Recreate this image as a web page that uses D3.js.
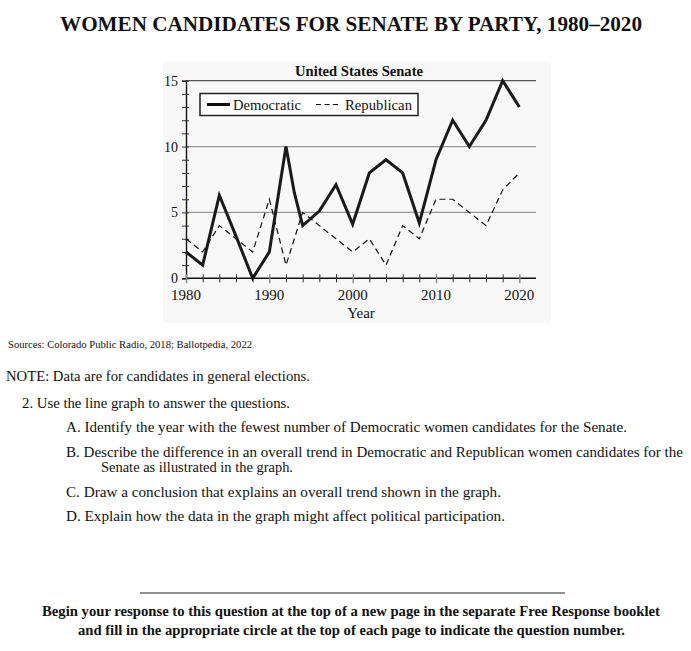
<!DOCTYPE html>
<html><head><meta charset="utf-8">
<script src="https://cdn.jsdelivr.net/npm/d3@7"></script>
<style>body{margin:0;background:#fff}svg{display:block}text{font-family:"Liberation Serif","Times New Roman",serif;fill:#111}</style>
</head><body><svg id="c" width="691" height="651"></svg>
<script>
const years = [1980,1982,1984,1986,1988,1990,1992,1993,1994,1996,1998,2000,2002,2004,2006,2008,2010,2012,2014,2016,2018,2020];
const democratic = [2,1,6.3,3.2,0,2,10,6.5,4,5.1,7.1,4.1,8,9,8,4.2,9,12,10,12,15,13];
const repYears = [1980,1982,1984,1986,1988,1990,1992,1994,1996,1998,2000,2002,2004,2006,2008,2010,2012,2014,2016,2018,2020];
const republican = [3,2,4,3,2,6,1,5,4,3,2,3,1,4,3,6,6,5,4,6.7,8];
const xLabels = [1980,1990,2000,2010,2020];
const yLabels = [0,5,10,15];
const seriesNames = ["Democratic","Republican"];

const svg = d3.select("#c");
const x = d3.scaleLinear().domain([1980,2022]).range([186,536]);
const y = d3.scaleLinear().domain([0,15]).range([278.3,80.7]);

// panel background
svg.append("rect").attr("x",163).attr("y",62).attr("width",388).attr("height",261).attr("fill","#f8f8f8");

// title
svg.append("text").attr("x",351).attr("y",31).attr("text-anchor","middle")
  .attr("font-size",21).attr("font-weight","bold").attr("textLength",582).attr("lengthAdjust","spacingAndGlyphs")
  .text("WOMEN CANDIDATES FOR SENATE BY PARTY, 1980–2020");
svg.append("text").attr("x",359).attr("y",76).attr("text-anchor","middle")
  .attr("font-size",14.5).attr("font-weight","bold").attr("textLength",128).attr("lengthAdjust","spacingAndGlyphs")
  .text("United States Senate");

// gridlines
svg.append("g").selectAll("line").data([5,10,15]).join("line")
  .attr("x1",186).attr("x2",536).attr("y1",d=>y(d)).attr("y2",d=>y(d))
  .attr("stroke",d=>d===15?"#555":"#999").attr("stroke-width",1.3);

// y axis
const yAxis = svg.append("g").attr("transform","translate(186,0)")
  .call(d3.axisLeft(y).tickValues(d3.range(0,16)).tickSize(4).tickFormat(""));
yAxis.select(".domain").attr("stroke","#111").attr("stroke-width",1.4);
yAxis.selectAll(".tick line").attr("x2",3).attr("x1",-4).attr("stroke","#333");
svg.append("g").selectAll("text").data(yLabels).join("text")
  .attr("x",178).attr("y",d=>y(d)+5).attr("text-anchor","end").attr("font-size",14).text(d=>d);

// x axis
const xAxis = svg.append("g").attr("transform",`translate(0,${y(0)})`)
  .call(d3.axisBottom(x).tickValues(d3.range(1980,2022,2)).tickSize(4).tickFormat(""));
xAxis.select(".domain").attr("d",`M186,0H536`).attr("stroke","#111").attr("stroke-width",1.4);
xAxis.selectAll(".tick line").attr("y1",-4).attr("y2",d=>d%10===0?5:4).attr("stroke",d=>d%10===0?"#888":"#333").attr("stroke-width",d=>d%10===0?1.4:1);
svg.append("g").selectAll("text").data(xLabels).join("text")
  .attr("x",d=>x(d)).attr("y",300).attr("text-anchor","middle").attr("font-size",15).text(d=>d);
svg.append("text").attr("x",361).attr("y",318).attr("text-anchor","middle").attr("font-size",15).text("Year");

// lines
const line = d3.line().x(d=>x(d[0])).y(d=>y(d[1]));
svg.append("path").datum(repYears.map((yr,i)=>[yr,republican[i]])).attr("d",line)
  .attr("fill","none").attr("stroke","#111").attr("stroke-width",1.2).attr("stroke-dasharray","6,4");
svg.append("path").datum(years.map((yr,i)=>[yr,democratic[i]])).attr("d",line)
  .attr("fill","none").attr("stroke","#1a1a1a").attr("stroke-width",3).attr("stroke-linejoin","miter");

// legend
const lg = svg.append("g");
lg.append("rect").attr("x",200).attr("y",93.5).attr("width",218).attr("height",22).attr("fill","#fff").attr("stroke","#222").attr("stroke-width",1.5);
lg.append("line").attr("x1",207).attr("x2",230).attr("y1",104.5).attr("y2",104.5).attr("stroke","#111").attr("stroke-width",3);
lg.append("text").attr("x",233).attr("y",109.5).attr("font-size",14.5).attr("textLength",68).attr("lengthAdjust","spacingAndGlyphs").text(seriesNames[0]);
lg.append("line").attr("x1",316).attr("x2",340).attr("y1",104.5).attr("y2",104.5).attr("stroke","#111").attr("stroke-width",1.2).attr("stroke-dasharray","5,3.5");
lg.append("text").attr("x",345).attr("y",109.5).attr("font-size",14.5).attr("textLength",67).attr("lengthAdjust","spacingAndGlyphs").text(seriesNames[1]);

// text block
function t(xp,yp,len,size,txt,opts={}){
  const e = svg.append("text").attr("x",xp).attr("y",yp).attr("font-size",size)
    .attr("textLength",len).attr("lengthAdjust","spacingAndGlyphs").text(txt);
  if(opts.bold) e.attr("font-weight","bold");
  if(opts.anchor) e.attr("text-anchor",opts.anchor);
  return e;
}
t(8,348,244,10,"Sources: Colorado Public Radio, 2018; Ballotpedia, 2022");
t(6,381,304,14.5,"NOTE: Data are for candidates in general elections.");
t(22,408,268,14.5,"2. Use the line graph to answer the questions.");
t(66,432,561,14.5,"A. Identify the year with the fewest number of Democratic women candidates for the Senate.");
t(66,457,617,14.5,"B. Describe the difference in an overall trend in Democratic and Republican women candidates for the");
t(101,472,192,14.5,"Senate as illustrated in the graph.");
t(66,497,435,14.5,"C. Draw a conclusion that explains an overall trend shown in the graph.");
t(66,521,439,14.5,"D. Explain how the data in the graph might affect political participation.");

svg.append("line").attr("x1",140).attr("x2",565).attr("y1",593).attr("y2",593).attr("stroke","#222").attr("stroke-width",1);
t(42,616,618,14.5,"Begin your response to this question at the top of a new page in the separate Free Response booklet",{bold:true});
t(78,635,547,14.5,"and fill in the appropriate circle at the top of each page to indicate the question number.",{bold:true});
</script></body></html>
